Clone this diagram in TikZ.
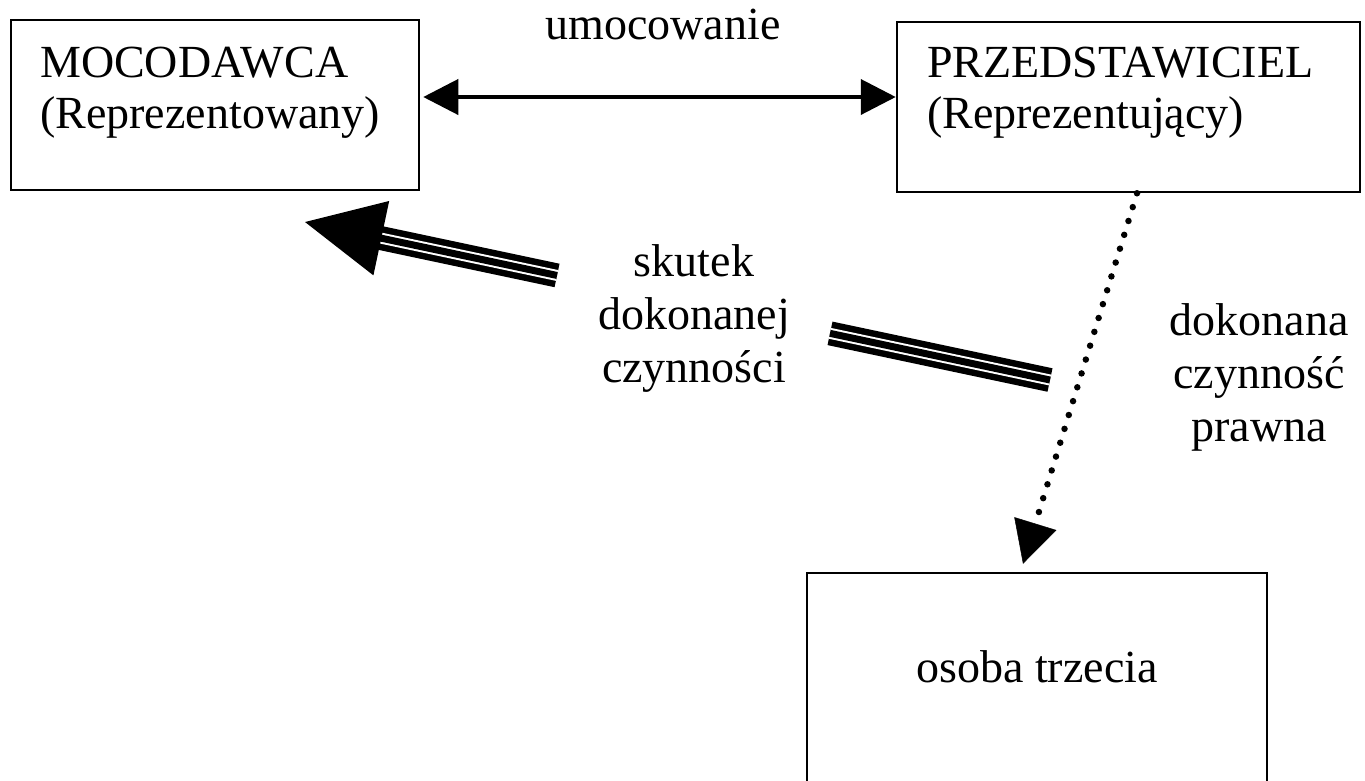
\documentclass[tikz,border=0pt]{standalone}
\usepackage{fontspec}
\setmainfont{Liberation Serif}
\usetikzlibrary{arrows.meta,calc}
\begin{document}
\begin{tikzpicture}[x=1pt,y=-1pt,
  box/.style={draw, rectangle, line width=2.5pt, inner sep=0pt},
  lbl/.style={inner sep=0pt, font=\fontsize{46}{51}\selectfont},
  lblwide/.style={inner sep=0pt, font=\fontsize{46}{53}\selectfont},
  tripleline/.style={line width=24pt,
    postaction={draw=white, line width=11pt},
    postaction={draw=black, line width=7pt}},
  dotline/.style={line width=6.5pt, line cap=round, dash pattern=on 0pt off 14.5pt,
    -{Triangle[length=42pt,width=44pt,line width=0.5pt]}}
]
\path[use as bounding box, clip] (0,0) rectangle (1365,780);

% boxes
\node[box, minimum width=408pt, minimum height=170pt] (mocodawca) at (215,105) {};
\node[box, minimum width=463pt, minimum height=170pt] (przedst) at (1128.5,107) {};
\node[box, minimum width=460pt, minimum height=240pt] (osoba) at (1037,693) {};

% box texts
\node[lbl, anchor=base west] (mtext) at (40,77)
  {\begin{tabular}[t]{@{}l@{}}MOCODAWCA\\(Reprezentowany)\end{tabular}};
\node[lbl, anchor=base west] (ptext) at (927,77)
  {\begin{tabular}[t]{@{}l@{}}PRZEDSTAWICIEL\\(Reprezentujący)\end{tabular}};
\node[lbl, anchor=base] (otext) at (1037,682) {osoba trzecia};

% labels
\node[lbl, anchor=base] (umoc) at (663,39) {umocowanie};
\node[lblwide, anchor=base] (skutek) at (694,276)
  {\begin{tabular}[t]{@{}c@{}}skutek\\dokonanej\\czynności\end{tabular}};
\node[lblwide, anchor=base] (dokon) at (1259,335)
  {\begin{tabular}[t]{@{}c@{}}dokonana\\czynność\\prawna\end{tabular}};

% double-headed arrow
\draw[line width=4pt, {Triangle[length=35pt,width=35pt]}-{Triangle[length=35pt,width=35pt]}, shorten <=3pt]
  ([yshift=8pt]mocodawca.east) -- ([yshift=8pt]mocodawca.east -| przedst.west);

% dotted arrow
\draw[dotline] ([xshift=8.5pt]przedst.south) -- ([xshift=-14pt,yshift=8pt]osoba.north);

% triple-line arrow (skutek)
\coordinate (sEnd) at (1050,380);
\coordinate (sTip) at (305,222);
\coordinate (gapR) at ($(sEnd)!0.2953!(sTip)$);
\coordinate (gapL) at ($(sEnd)!0.6617!(sTip)$);
\coordinate (sBase) at ($(sEnd)!0.8976!(sTip)$);
\coordinate (sIn) at ($(sEnd)!0.92!(sTip)$);
\draw[tripleline] (sEnd) -- (gapR);
\draw[tripleline] (gapL) -- (sIn);
\fill (sTip) -- ($(sBase)!38pt!90:(sTip)$) -- ($(sBase)!38pt!-90:(sTip)$) -- cycle;
\end{tikzpicture}
\end{document}
